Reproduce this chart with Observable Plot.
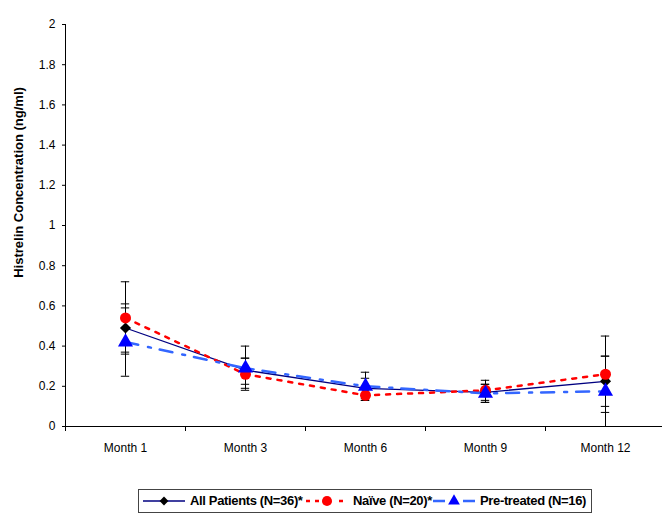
<!DOCTYPE html>
<html>
<head>
<meta charset="utf-8">
<script src="https://cdn.jsdelivr.net/npm/d3@7"></script>
<script src="https://cdn.jsdelivr.net/npm/@observablehq/plot@0.6"></script>
<style>
  body { margin: 0; background: white; font-family: "Liberation Sans", Arial, sans-serif; }
  #legend { position: relative; margin-left: 138px; margin-top: 5px; width: 454px; height: 24px; border: 1px solid #444; box-sizing: border-box;
            font-weight: bold; font-size: 13px; letter-spacing: -0.35px; white-space: nowrap; }
  #legend svg, #legend span { position: absolute; display: block; }
</style>
</head>
<body>
<div id="chart"></div>
<div id="legend"></div>
<script>
const months = ["Month 1", "Month 3", "Month 6", "Month 9", "Month 12"];
const yTicks = [0, 0.2, 0.4, 0.6, 0.8, 1, 1.2, 1.4, 1.6, 1.8, 2];

const allMean  = [0.49, 0.28, 0.19, 0.17, 0.225];
const allLow   = [0.37, 0.21, 0.14, 0.12, 0.10];
const allHigh  = [0.61, 0.34, 0.24, 0.21, 0.35];

const naiveMean = [0.54, 0.26, 0.155, 0.18, 0.26];
const naiveLow  = [0.36, 0.19, 0.13, 0.13, 0.07];
const naiveHigh = [0.72, 0.34, 0.20, 0.23, 0.45];

const preMean = [0.42, 0.29, 0.20, 0.165, 0.175];
const preLow  = [0.25, 0.18, 0.13, 0.12, 0.0];
const preHigh = [0.59, 0.40, 0.27, 0.21, 0.35];

const seriesNames = ["All Patients (N=36)*", "Naïve (N=20)*", "Pre-treated (N=16)"];

function rows(mean, low, high) {
  return months.map((m, i) => ({ month: m, x: i + 0.5, y: mean[i], low: low[i], high: high[i] }));
}
const allRows = rows(allMean, allLow, allHigh);
const naiveRows = rows(naiveMean, naiveLow, naiveHigh);
const preRows = rows(preMean, preLow, preHigh);

const capHalf = 0.035;
function errorBars(data) {
  return [
    Plot.ruleX(data, { x: "x", y1: "low", y2: "high", stroke: "black", strokeWidth: 1 }),
    Plot.ruleY(data, { y: "low", x1: d => d.x - capHalf, x2: d => d.x + capHalf, stroke: "black", strokeWidth: 1 }),
    Plot.ruleY(data, { y: "high", x1: d => d.x - capHalf, x2: d => d.x + capHalf, stroke: "black", strokeWidth: 1 })
  ];
}

const chart = Plot.plot({
  width: 662,
  height: 484,
  marginLeft: 66,
  marginRight: 0,
  marginTop: 24,
  marginBottom: 58,
  style: { fontFamily: "'Liberation Sans', Arial, sans-serif", fontSize: "12px", color: "black", background: "white", overflow: "visible" },
  x: { domain: [0, 5], range: [65, 665], axis: null },
  y: { domain: [0, 2], axis: null },
  marks: [
    Plot.axisY({ ticks: yTicks, tickSize: 4, tickPadding: 7, tickFormat: d => String(+d.toFixed(1)), label: null, fontSize: 12 }),
    Plot.axisX({ ticks: [0, 1, 2, 3, 4, 5], tickSize: 5, tickFormat: () => "", label: null }),
    Plot.axisX({ ticks: months.map((m, i) => i + 0.5), tickSize: 0, tickPadding: 17, tickFormat: v => months[Math.round(v - 0.5)], label: null, fontSize: 12 }),
    Plot.ruleX([0], { y1: 0, y2: 2, stroke: "black", strokeWidth: 1 }),
    Plot.ruleY([0], { x1: 0, x2: 5, stroke: "black", strokeWidth: 1 }),
    Plot.text(["Histrelin Concentration (ng/ml)"], { frameAnchor: "left", textAnchor: "middle", rotate: -90, dx: -48, dy: -43, fontWeight: "bold", fontSize: 13 }),
    // lines
    Plot.line(allRows, { x: "x", y: "y", stroke: "#000080", strokeWidth: 1.3 }),
    Plot.line(naiveRows, { x: "x", y: "y", stroke: "#FF0000", strokeWidth: 2.5, strokeDasharray: "4,7" }),
    Plot.line(preRows, { x: "x", y: "y", stroke: "#3366FF", strokeWidth: 2.5, strokeDasharray: "13,10,3,9" }),
    // error bars
    ...errorBars(allRows),
    ...errorBars(naiveRows),
    ...errorBars(preRows),
    // markers
    Plot.dot(allRows, { x: "x", y: "y", symbol: "diamond2", r: 5, fill: "black", stroke: "none" }),
    Plot.dot(naiveRows, { x: "x", y: "y", symbol: "circle", r: 5.5, fill: "#FF0000", stroke: "none" }),
    Plot.dot(preRows, { x: "x", y: "y", symbol: "triangle", r: 5.6, fill: "#0000FF", stroke: "none" })
  ]
});
document.getElementById("chart").appendChild(chart);

// legend
const legend = d3.select("#legend");
const legendStyles = [
  { stroke: "#000080", width: 1.3, dash: null, symbol: d3.symbolDiamond2, size: 50, fill: "black", left: 4, textLeft: 51 },
  { stroke: "#FF0000", width: 2.5, dash: "4,5,4,20,4,5", symbol: d3.symbolCircle, size: 80, fill: "#FF0000", left: 167, textLeft: 214 },
  { stroke: "#3366FF", width: 2.5, dash: "12,18,12", symbol: d3.symbolTriangle, size: 60, fill: "#0000FF", left: 294, textLeft: 341 }
];
seriesNames.forEach((name, i) => {
  const s = legendStyles[i];
  const svg = legend.append("svg").attr("width", 42).attr("height", 14)
    .style("left", s.left + "px").style("top", "4px");
  svg.append("line").attr("x1", 0).attr("x2", 42).attr("y1", 7).attr("y2", 7)
    .attr("stroke", s.stroke).attr("stroke-width", s.width)
    .attr("stroke-dasharray", s.dash);
  svg.append("path").attr("transform", "translate(21,7)").attr("d", d3.symbol(s.symbol, s.size)()).attr("fill", s.fill);
  legend.append("span").style("left", s.textLeft + "px").style("top", "3px").text(name);
});
</script>
</body>
</html>
